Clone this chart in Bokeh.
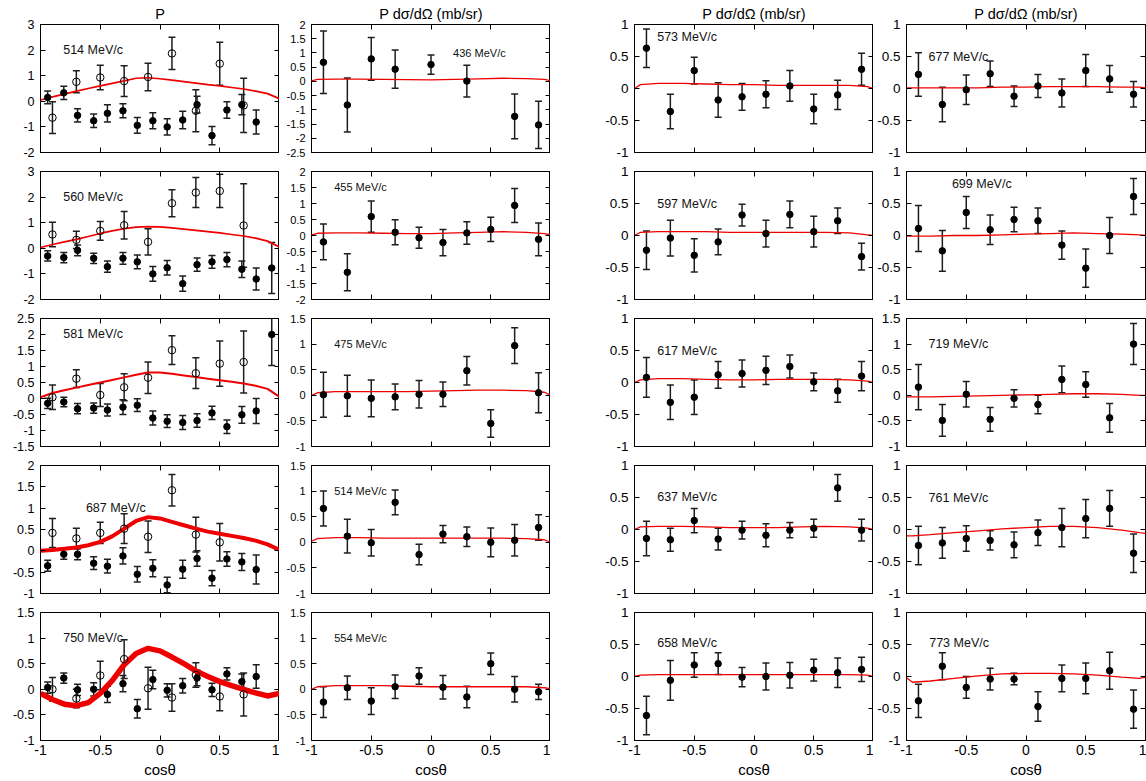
from bokeh.plotting import figure
from bokeh.models import (ColumnDataSource, Whisker, TeeHead, LinearAxis, FixedTicker,
                          CustomJSTickFormatter, Range1d, Label)
from bokeh.layouts import column, row
from bokeh.embed import file_html
from bokeh.resources import INLINE

FONT = "Liberation Sans"

# ---------------------------------------------------------------- bin centres
COS_POL_FILLED = [-0.94, -0.805, -0.69, -0.555, -0.44, -0.31, -0.19, -0.06,
                  0.06, 0.19, 0.31, 0.435, 0.56, 0.685, 0.805, 0.935]
COS_POL_OPEN = [-0.9, -0.7, -0.5, -0.3, -0.1, 0.1, 0.3, 0.5, 0.7]
COS_XSEC = [-0.9, -0.7, -0.5, -0.3, -0.1, 0.1, 0.3, 0.5, 0.7, 0.9]
COS_XSEC_436 = [-0.9, -0.7, -0.5, -0.3, 0.0, 0.3, 0.7, 0.9]
COS_CURVE_FINE = [-1.0, -0.9, -0.8, -0.7, -0.6, -0.5, -0.4, -0.3, -0.2, -0.1, 0.0,
                  0.1, 0.2, 0.3, 0.4, 0.5, 0.6, 0.7, 0.8, 0.9, 1.0]
COS_CURVE_FLAT = [-1.0, -0.95, -0.8, -0.6, -0.4, -0.2, 0.0, 0.2, 0.4, 0.6, 0.8, 0.95, 1.0]

# ---------------------------------------------------------------- polarisation P
P514_FILLED_VAL = [0.15, 0.33, -0.55, -0.76, -0.47, -0.37, -0.94, -0.76, -1.0, -0.73,
                   -0.13, -1.34, -0.34, -0.13, -0.81]
P514_FILLED_ERR = [0.25, 0.26, 0.26, 0.26, 0.34, 0.27, 0.31, 0.31, 0.32, 0.34,
                   0.33, 0.36, 0.32, 0.4, 0.47]
P514_OPEN_VAL = [-0.64, 0.76, 0.93, 0.79, 0.95, 1.87, -0.37, 1.47, -0.16]
P514_OPEN_ERR = [0.62, 0.43, 0.48, 0.6, 0.54, 0.63, 0.82, 0.84, 1.06]
P514_CURVE = [0.05, 0.17, 0.28, 0.4, 0.5, 0.6, 0.7, 0.8, 0.9, 0.92, 0.88,
              0.83, 0.77, 0.71, 0.65, 0.6, 0.54, 0.48, 0.4, 0.3, 0.1]

P560_FILLED_VAL = [-0.30, -0.36, -0.08, -0.39, -0.72, -0.39, -0.53, -1.0, -0.76, -1.38,
                   -0.64, -0.53, -0.44, -0.82, -1.2, -0.77]
P560_FILLED_ERR = [0.2, 0.2, 0.21, 0.2, 0.22, 0.23, 0.27, 0.29, 0.28, 0.3,
                   0.26, 0.25, 0.28, 0.32, 0.43, 1.0]
P560_OPEN_VAL = [0.54, 0.33, 0.68, 0.90, 0.25, 1.76, 2.18, 2.24, 0.89]
P560_OPEN_ERR = [0.48, 0.34, 0.37, 0.54, 0.51, 0.53, 0.59, 0.65, 1.63]
P560_CURVE = [0.03, 0.15, 0.25, 0.35, 0.46, 0.58, 0.68, 0.77, 0.83, 0.85, 0.84,
              0.8, 0.75, 0.7, 0.65, 0.6, 0.54, 0.48, 0.4, 0.28, 0.05]

P581_FILLED_VAL = [-0.15, -0.11, -0.32, -0.30, -0.36, -0.27, -0.21, -0.61, -0.71, -0.75,
                   -0.69, -0.45, -0.88, -0.51, -0.39, 2.0]
P581_FILLED_ERR = [0.16, 0.15, 0.16, 0.16, 0.19, 0.23, 0.2, 0.22, 0.2, 0.22,
                   0.21, 0.21, 0.21, 0.26, 0.39, 0.97]
P581_OPEN_VAL = [0.04, 0.62, 0.11, 0.35, 0.65, 1.51, 0.79, 1.09, 1.14]
P581_OPEN_ERR = [0.38, 0.28, 0.36, 0.42, 0.49, 0.45, 0.48, 0.71, 0.97]
P581_CURVE = [0.04, 0.17, 0.26, 0.34, 0.42, 0.5, 0.58, 0.66, 0.74, 0.81, 0.81,
              0.77, 0.72, 0.67, 0.62, 0.57, 0.52, 0.47, 0.4, 0.3, 0.05]

P687_FILLED_VAL = [-0.35, -0.08, -0.08, -0.29, -0.36, -0.12, -0.55, -0.41, -0.8, -0.43,
                   -0.18, -0.64, -0.19, -0.26, -0.44]
P687_FILLED_ERR = [0.13, 0.12, 0.13, 0.15, 0.16, 0.19, 0.18, 0.2, 0.18, 0.21,
                   0.18, 0.18, 0.17, 0.2, 0.34]
P687_OPEN_VAL = [0.42, 0.29, 0.42, 0.52, 0.33, 1.42, 0.38, 0.2]
P687_OPEN_ERR = [0.34, 0.24, 0.25, 0.35, 0.37, 0.37, 0.41, 0.44]
P687_CURVE = [0.0, 0.02, 0.05, 0.08, 0.13, 0.21, 0.34, 0.52, 0.7, 0.79, 0.76,
              0.68, 0.6, 0.52, 0.45, 0.4, 0.35, 0.3, 0.24, 0.15, 0.02]

P750_FILLED_VAL = [0.035, 0.22, -0.01, 0.0, -0.1, 0.11, -0.38, 0.19, -0.02, 0.07,
                   0.22, -0.01, 0.30, 0.15, 0.25]
P750_FILLED_ERR = [0.11, 0.1, 0.11, 0.13, 0.16, 0.16, 0.18, 0.18, 0.13, 0.14,
                   0.15, 0.13, 0.12, 0.15, 0.23]
P750_OPEN_VAL = [0.0, -0.18, 0.27, 0.59, 0.02, -0.16, 0.28, -0.14, -0.1]
P750_OPEN_ERR = [0.23, 0.18, 0.28, 0.38, 0.41, 0.27, 0.24, 0.28, 0.42]
P750_CURVE = [-0.08, -0.2, -0.29, -0.32, -0.26, -0.08, 0.17, 0.48, 0.7, 0.8, 0.75,
              0.63, 0.5, 0.36, 0.25, 0.15, 0.07, 0.0, -0.07, -0.13, -0.08]

# ---------------------------------------------------------------- P dsigma/dOmega (mb/sr)
X436_VAL = [0.67, -0.83, 0.79, 0.43, 0.59, 0.01, -1.23, -1.53]
X436_ERR = [1.1, 0.95, 0.75, 0.67, 0.34, 0.56, 0.79, 0.83]
X436_CURVE = [0.02, 0.07, 0.08, 0.08, 0.07, 0.06, 0.05, 0.07, 0.09, 0.11, 0.1, 0.07, 0.02]

X455_VAL = [-0.2, -1.15, 0.59, 0.10, -0.07, -0.22, 0.08, 0.19, 0.94, -0.12]
X455_ERR = [0.56, 0.58, 0.49, 0.39, 0.33, 0.41, 0.35, 0.38, 0.53, 0.51]
X455_CURVE = [0.02, 0.07, 0.08, 0.08, 0.07, 0.06, 0.06, 0.08, 0.1, 0.12, 0.1, 0.06, 0.02]

X475_VAL = [0.01, -0.01, -0.06, -0.03, 0.02, 0.02, 0.48, -0.55, 0.97, 0.05]
X475_ERR = [0.44, 0.4, 0.36, 0.25, 0.27, 0.24, 0.28, 0.27, 0.35, 0.39]
X475_CURVE = [0.0, 0.05, 0.07, 0.07, 0.07, 0.07, 0.08, 0.09, 0.1, 0.1, 0.09, 0.06, 0.0]

X514_VAL = [0.66, 0.12, -0.01, 0.78, -0.24, 0.16, 0.11, 0.0, 0.04, 0.29]
X514_ERR = [0.34, 0.33, 0.26, 0.24, 0.2, 0.17, 0.19, 0.28, 0.31, 0.25]
X514_CURVE = [0.02, 0.07, 0.09, 0.09, 0.08, 0.08, 0.08, 0.08, 0.08, 0.08, 0.07, 0.05, 0.0]

X554_VAL = [-0.25, 0.03, -0.23, 0.05, 0.26, 0.04, -0.15, 0.5, 0.0, -0.05]
X554_ERR = [0.3, 0.23, 0.26, 0.23, 0.16, 0.23, 0.21, 0.21, 0.25, 0.15]
X554_CURVE = [0.0, 0.05, 0.07, 0.07, 0.07, 0.06, 0.05, 0.05, 0.05, 0.05, 0.05, 0.03, 0.01]

X573_VAL = [0.63, -0.36, 0.28, -0.18, -0.13, -0.09, 0.04, -0.32, -0.1, 0.3]
X573_ERR = [0.3, 0.27, 0.21, 0.27, 0.21, 0.21, 0.24, 0.23, 0.23, 0.25]
X573_CURVE = [0.0, 0.06, 0.08, 0.08, 0.07, 0.06, 0.06, 0.05, 0.05, 0.05, 0.05, 0.03, 0.0]

X597_VAL = [-0.23, -0.04, -0.31, -0.1, 0.32, 0.03, 0.33, 0.06, 0.23, -0.33]
X597_ERR = [0.3, 0.28, 0.26, 0.2, 0.17, 0.21, 0.21, 0.24, 0.2, 0.21]
X597_CURVE = [0.0, 0.05, 0.06, 0.06, 0.06, 0.05, 0.05, 0.05, 0.05, 0.05, 0.04, 0.01, 0.0]

X617_VAL = [0.08, -0.31, -0.23, 0.12, 0.14, 0.19, 0.25, 0.01, -0.13, 0.1]
X617_ERR = [0.31, 0.27, 0.27, 0.21, 0.21, 0.22, 0.18, 0.14, 0.18, 0.23]
X617_CURVE = [0.0, 0.04, 0.06, 0.06, 0.05, 0.04, 0.04, 0.05, 0.05, 0.05, 0.04, 0.02, 0.0]

X637_VAL = [-0.14, -0.16, 0.14, -0.15, -0.01, -0.09, -0.01, 0.02, 0.65, -0.01]
X637_ERR = [0.27, 0.18, 0.19, 0.17, 0.14, 0.18, 0.12, 0.14, 0.21, 0.17]
X637_CURVE = [0.0, 0.04, 0.05, 0.05, 0.04, 0.03, 0.03, 0.03, 0.04, 0.05, 0.04, 0.02, 0.0]

X658_VAL = [-0.61, -0.06, 0.18, 0.2, -0.01, 0.0, 0.02, 0.1, 0.06, 0.11]
X658_ERR = [0.3, 0.31, 0.19, 0.17, 0.15, 0.21, 0.2, 0.17, 0.23, 0.19]
X658_CURVE = [0.0, 0.02, 0.03, 0.03, 0.03, 0.03, 0.03, 0.03, 0.03, 0.03, 0.03, 0.02, 0.0]

X677_VAL = [0.22, -0.25, -0.02, 0.23, -0.12, 0.04, -0.07, 0.28, 0.15, -0.09]
X677_ERR = [0.34, 0.27, 0.23, 0.2, 0.16, 0.18, 0.22, 0.25, 0.21, 0.2]
X677_CURVE = [0.01, 0.01, 0.01, 0.01, 0.01, 0.02, 0.02, 0.03, 0.03, 0.03, 0.02, 0.02, 0.01]

X699_VAL = [0.11, -0.24, 0.36, 0.09, 0.25, 0.23, -0.15, -0.51, 0.0, 0.61]
X699_ERR = [0.36, 0.32, 0.25, 0.23, 0.19, 0.2, 0.22, 0.3, 0.28, 0.28]
X699_CURVE = [-0.01, -0.01, -0.01, 0.0, 0.0, 0.01, 0.02, 0.03, 0.04, 0.03, 0.02, 0.01, 0.0]

X719_VAL = [0.16, -0.49, 0.02, -0.47, -0.06, -0.18, 0.31, 0.21, -0.44, 1.0]
X719_ERR = [0.44, 0.31, 0.25, 0.23, 0.17, 0.18, 0.26, 0.25, 0.28, 0.4]
X719_CURVE = [-0.03, -0.03, -0.03, -0.02, -0.01, 0.0, 0.01, 0.02, 0.03, 0.03, 0.02, 0.0, 0.0]

X761_VAL = [-0.25, -0.21, -0.14, -0.17, -0.24, -0.05, 0.03, 0.17, 0.33, -0.37]
X761_ERR = [0.3, 0.24, 0.2, 0.15, 0.2, 0.2, 0.3, 0.3, 0.28, 0.3]
X761_CURVE = [-0.1, -0.1, -0.08, -0.05, -0.02, 0.01, 0.03, 0.05, 0.05, 0.03, -0.01, -0.05, -0.06]

X773_VAL = [-0.38, 0.16, -0.17, -0.04, -0.04, -0.47, -0.03, -0.03, 0.09, -0.51]
X773_ERR = [0.26, 0.21, 0.17, 0.17, 0.09, 0.23, 0.21, 0.24, 0.29, 0.3]
X773_CURVE = [-0.02, -0.09, -0.07, -0.03, 0.01, 0.04, 0.05, 0.05, 0.04, 0.02, -0.01, -0.03, -0.01]

# ---------------------------------------------------------------- tick sets
X_TICKS = [-1, -0.5, 0, 0.5, 1]
T_M2_3 = [-2, -1, 0, 1, 2, 3]
T_M15_25 = [-1.5, -1, -0.5, 0, 0.5, 1, 1.5, 2, 2.5]
T_M1_2 = [-1, -0.5, 0, 0.5, 1, 1.5, 2]
T_M1_15 = [-1, -0.5, 0, 0.5, 1, 1.5]
T_M25_2 = [-2.5, -2, -1.5, -1, -0.5, 0, 0.5, 1, 1.5, 2]
T_M2_2 = [-2, -1.5, -1, -0.5, 0, 0.5, 1, 1.5, 2]
T_M1_1 = [-1, -0.5, 0, 0.5, 1]

COL_TITLES = ["P", "P d\u03c3/d\u03a9 (mb/sr)", "P d\u03c3/d\u03a9 (mb/sr)", "P d\u03c3/d\u03a9 (mb/sr)"]

# ---------------------------------------------------------------- geometry / style
FRAME_W, FRAME_H = 239, 128
LEFT = [40, 32, 84, 33]
RIGHT = [0, 0, 0, 1]
TOP = [24, 11, 11, 11, 11]
BOTTOM = [8, 8, 8, 8, 40]
YLAB_PX = ["12.5px", "11px", "13.5px", "13.5px"]
NOTE_PX = ["12.5px", "11px", "12.5px", "12.5px"]
BAR_COLOR = "#1e1e1e"
CURVE_COLOR = "#ee0000"

# panel specs: (label, y-range, ticks, label position, data, curve width)
POL_PANELS = [
    ("514 MeV/c", (-2, 3), T_M2_3, (-0.81, 2.0), P514_FILLED_VAL, P514_FILLED_ERR,
     P514_OPEN_VAL, P514_OPEN_ERR, P514_CURVE, 1.7),
    ("560 MeV/c", (-2, 3), T_M2_3, (-0.81, 2.02), P560_FILLED_VAL, P560_FILLED_ERR,
     P560_OPEN_VAL, P560_OPEN_ERR, P560_CURVE, 1.7),
    ("581 MeV/c", (-1.5, 2.5), T_M15_25, (-0.81, 2.03), P581_FILLED_VAL, P581_FILLED_ERR,
     P581_OPEN_VAL, P581_OPEN_ERR, P581_CURVE, 2.0),
    ("687 MeV/c", (-1, 2), T_M1_2, (-0.62, 1.0), P687_FILLED_VAL, P687_FILLED_ERR,
     P687_OPEN_VAL, P687_OPEN_ERR, P687_CURVE, 4.0),
    ("750 MeV/c", (-1, 1.5), T_M1_15, (-0.81, 1.0), P750_FILLED_VAL, P750_FILLED_ERR,
     P750_OPEN_VAL, P750_OPEN_ERR, P750_CURVE, 5.5),
]

XSEC_PANELS = [
    [("436 MeV/c", (-2.5, 2), T_M25_2, (0.185, 1.0), COS_XSEC_436, X436_VAL, X436_ERR, X436_CURVE),
     ("455 MeV/c", (-2, 2), T_M2_2, (-0.81, 1.51), COS_XSEC, X455_VAL, X455_ERR, X455_CURVE),
     ("475 MeV/c", (-1, 1.5), T_M1_15, (-0.81, 1.0), COS_XSEC, X475_VAL, X475_ERR, X475_CURVE),
     ("514 MeV/c", (-1, 1.5), T_M1_15, (-0.81, 1.0), COS_XSEC, X514_VAL, X514_ERR, X514_CURVE),
     ("554 MeV/c", (-1, 1.5), T_M1_15, (-0.81, 1.0), COS_XSEC, X554_VAL, X554_ERR, X554_CURVE)],
    [("573 MeV/c", (-1, 1), T_M1_1, (-0.81, 0.8), COS_XSEC, X573_VAL, X573_ERR, X573_CURVE),
     ("597 MeV/c", (-1, 1), T_M1_1, (-0.81, 0.5), COS_XSEC, X597_VAL, X597_ERR, X597_CURVE),
     ("617 MeV/c", (-1, 1), T_M1_1, (-0.81, 0.5), COS_XSEC, X617_VAL, X617_ERR, X617_CURVE),
     ("637 MeV/c", (-1, 1), T_M1_1, (-0.81, 0.51), COS_XSEC, X637_VAL, X637_ERR, X637_CURVE),
     ("658 MeV/c", (-1, 1), T_M1_1, (-0.81, 0.52), COS_XSEC, X658_VAL, X658_ERR, X658_CURVE)],
    [("677 MeV/c", (-1, 1), T_M1_1, (-0.815, 0.5), COS_XSEC, X677_VAL, X677_ERR, X677_CURVE),
     ("699 MeV/c", (-1, 1), T_M1_1, (-0.62, 0.8), COS_XSEC, X699_VAL, X699_ERR, X699_CURVE),
     ("719 MeV/c", (-1, 1.5), T_M1_15, (-0.815, 1.01), COS_XSEC, X719_VAL, X719_ERR, X719_CURVE),
     ("761 MeV/c", (-1, 1), T_M1_1, (-0.815, 0.5), COS_XSEC, X761_VAL, X761_ERR, X761_CURVE),
     ("773 MeV/c", (-1, 1), T_M1_1, (-0.81, 0.52), COS_XSEC, X773_VAL, X773_ERR, X773_CURVE)],
]

TICK_FMT = "return String(tick)"


def style_axis(ax, ticks, show_labels, label_px):
    ax.ticker = FixedTicker(ticks=ticks)
    ax.formatter = CustomJSTickFormatter(code=TICK_FMT)
    ax.axis_line_color = None
    ax.major_tick_in = 5
    ax.major_tick_out = 0
    ax.major_tick_line_color = "black"
    ax.major_tick_line_width = 1
    ax.minor_tick_line_color = None
    ax.major_label_text_font = FONT
    if show_labels:
        ax.major_label_text_color = "black"
        ax.major_label_text_font_size = label_px
        ax.major_label_standoff = 6
    else:
        # tick marks only: labels are not painted and take (almost) no room
        ax.major_label_text_color = None
        ax.major_label_text_font_size = "1px"
        ax.major_label_standoff = 0


def base_figure(ci, ri, yr, yticks):
    p = figure(frame_width=FRAME_W, frame_height=FRAME_H,
               x_range=Range1d(-1, 1), y_range=Range1d(*yr),
               min_border_left=LEFT[ci], min_border_right=RIGHT[ci],
               min_border_top=TOP[ri], min_border_bottom=BOTTOM[ri],
               output_backend="svg", toolbar_location=None, tools="",
               background_fill_color="white", border_fill_color="white")
    p.grid.visible = False
    p.outline_line_color = "black"
    p.outline_line_width = 1
    if ri == 0:
        p.title.text = COL_TITLES[ci]
        p.title.align = "center"
        p.title.text_font = FONT
        p.title.text_font_size = "14.5px"
        p.title.text_font_style = "normal"
        p.title.text_color = "black"
        p.title.standoff = 6
    top_ax = LinearAxis()
    right_ax = LinearAxis()
    p.add_layout(top_ax, "above")
    p.add_layout(right_ax, "right")
    bottom_ax = p.below[0]
    left_ax = p.left[0]
    style_axis(bottom_ax, X_TICKS, ri == 4, "14px")
    style_axis(top_ax, X_TICKS, False, "1px")
    style_axis(left_ax, yticks, True, YLAB_PX[ci])
    style_axis(right_ax, yticks, False, "1px")
    if ri == 4:
        bottom_ax.major_label_standoff = 4
        bottom_ax.axis_label = "cos\u03b8"
        bottom_ax.axis_label_text_font = FONT
        bottom_ax.axis_label_text_font_size = "15px"
        bottom_ax.axis_label_text_font_style = "normal"
        bottom_ax.axis_label_text_color = "black"
        bottom_ax.axis_label_standoff = 3
    return p


def error_points(p, cos, val, err, filled):
    src = ColumnDataSource(dict(x=cos, y=val,
                                lo=[v - e for v, e in zip(val, err)],
                                hi=[v + e for v, e in zip(val, err)]))
    if filled:
        p.scatter("x", "y", source=src, marker="circle", size=6.5,
                  fill_color="black", line_color="black")
    else:
        p.scatter("x", "y", source=src, marker="circle", size=7.5,
                  fill_color=None, line_color="black", line_width=1)
    p.add_layout(Whisker(source=src, base="x", lower="lo", upper="hi",
                         line_color=BAR_COLOR, line_width=1.5,
                         upper_head=TeeHead(size=7, line_color=BAR_COLOR, line_width=1.5),
                         lower_head=TeeHead(size=7, line_color=BAR_COLOR, line_width=1.5)))


def note(p, text, pos, px):
    p.add_layout(Label(x=pos[0], y=pos[1], text=text, text_font=FONT,
                       text_font_size=px, text_baseline="middle", text_align="left",
                       text_color="#111111"))


rows = []
for ri in range(5):
    figs = []
    # polarisation column
    (lab, yr, yt, pos, fv, fe, ov, oe, curve, cw) = POL_PANELS[ri]
    p = base_figure(0, ri, yr, yt)
    p.line(COS_CURVE_FINE, curve, line_color=CURVE_COLOR, line_width=cw)
    error_points(p, COS_POL_FILLED[:len(fv)], fv, fe, True)
    error_points(p, COS_POL_OPEN[:len(ov)], ov, oe, False)
    note(p, lab, pos, NOTE_PX[0])
    figs.append(p)
    # cross-section columns
    for ci in range(1, 4):
        (lab, yr, yt, pos, cos, val, err, curve) = XSEC_PANELS[ci - 1][ri]
        p = base_figure(ci, ri, yr, yt)
        p.line(COS_CURVE_FLAT, curve, line_color=CURVE_COLOR, line_width=1.3)
        error_points(p, cos, val, err, True)
        note(p, lab, pos, NOTE_PX[ci])
        figs.append(p)
    rows.append(row(*figs))

layout = column(*rows)

open("out.html", "w").write(file_html(layout, INLINE))
